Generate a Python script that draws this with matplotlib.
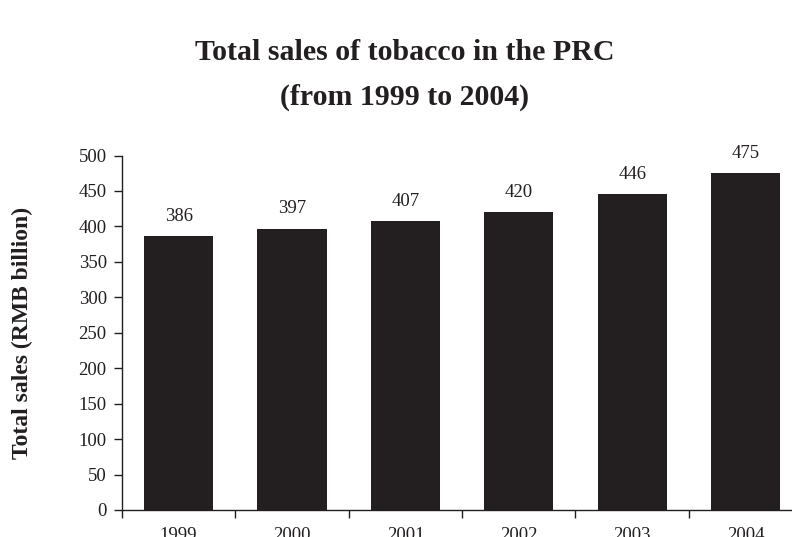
import numpy as np
import matplotlib.pyplot as plt

years = ['1999', '2000', '2001', '2002', '2003', '2004']
sales = [386, 397, 407, 420, 446, 475]

ink = '#231f20'
plt.rcParams['font.family'] = ['Liberation Serif', 'DejaVu Serif']

fig = plt.figure(figsize=(7.92, 5.37), dpi=100)
ax = fig.add_axes([0.154, 0.0503, 0.846, 0.6601])

x = np.arange(len(years))
bars = ax.bar(x, sales, width=0.61, color=ink)

for xi, v in zip(x, sales):
    ax.annotate(str(v), (xi, v), xytext=(0, 8), textcoords='offset points',
                ha='center', va='bottom', fontsize=13.5, color=ink)

ax.set_xlim(-0.5, 5.41)
ax.set_ylim(0, 500)
ax.set_yticks(np.arange(0, 501, 50))
ax.set_xticks(x)
ax.set_xticklabels(years)
ax.set_xticks(np.arange(-0.5, 5.5, 1), minor=True)

ax.tick_params(axis='y', direction='out', length=6, width=1, color=ink,
               labelsize=13.5, labelcolor=ink, pad=5)
ax.tick_params(axis='x', which='major', length=0, labelsize=13.5,
               labelcolor=ink, pad=12)
ax.tick_params(axis='x', which='minor', direction='out', length=6, width=1,
               color=ink)

for s in ['top', 'right']:
    ax.spines[s].set_visible(False)
for s in ['left', 'bottom']:
    ax.spines[s].set_color(ink)
    ax.spines[s].set_linewidth(1)

ax.set_ylabel('Total sales (RMB billion)', fontsize=17, fontweight='bold',
              color=ink, labelpad=33)

fig.text(0.511, 0.903, 'Total sales of tobacco in the PRC', ha='center',
         va='center', fontsize=21.5, fontweight='bold', color=ink)
fig.text(0.511, 0.819, '(from 1999 to 2004)', ha='center', va='center',
         fontsize=21.5, fontweight='bold', color=ink)

plt.savefig('out.png', dpi=100)
